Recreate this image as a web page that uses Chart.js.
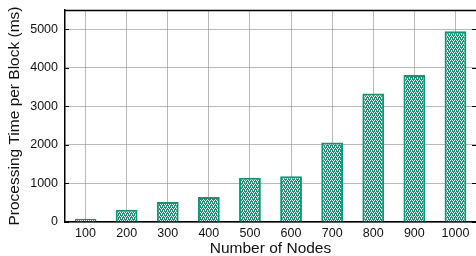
<!DOCTYPE html>
<html><head><meta charset="utf-8">
<script src="https://cdn.jsdelivr.net/npm/chart.js@4/dist/chart.umd.min.js"></script>
<style>html,body{margin:0;padding:0;background:#fff}#wrap{width:476px;height:256px}</style>
</head><body><div id="wrap"><canvas id="c" width="476" height="256"></canvas></div>
<script>
const nodes = ['100','200','300','400','500','600','700','800','900','1000'];
const timesMs = [85, 320, 518, 648, 1150, 1190, 2065, 3334, 3816, 4948];
const yMax = 5500;
const yStep = 1000;

const GREEN = '#009e73';
function checker() {
  const p = document.createElement('canvas');
  p.width = 4; p.height = 4;
  const g = p.getContext('2d');
  g.fillStyle = GREEN; g.fillRect(0,0,4,4);
  g.fillStyle = '#ffffff';
  [[0,0],[2,0],[1,2],[3,2],[1,1],[3,3]].forEach(([x,y]) => g.fillRect(x,y,1,1));
  return g.createPattern(p, 'repeat');
}
const FONT = '"Liberation Sans", Arial, sans-serif';

const frame = {
  id: 'frame',
  afterDraw(chart) {
    const a = chart.chartArea, ctx = chart.ctx;
    ctx.save();
    ctx.strokeStyle = '#000'; ctx.lineWidth = 1.5;
    ctx.beginPath();
    ctx.moveTo(a.left, a.top + 0.5); ctx.lineTo(a.right, a.top + 0.5);
    ctx.stroke();
    const ys = chart.scales.y;
    ctx.lineWidth = 1;
    for (let v = 0; v <= yMax; v += yStep) {
      const y = Math.round(ys.getPixelForValue(v)) + 0.5;
      ctx.beginPath(); ctx.moveTo(a.right - 4, y); ctx.lineTo(a.right, y); ctx.stroke();
      ctx.beginPath(); ctx.moveTo(a.left, y); ctx.lineTo(a.left + 4, y); ctx.stroke();
    }
    ctx.restore();
  }
};

new Chart(document.getElementById('c'), {
  type: 'bar',
  data: { labels: nodes, datasets: [{
    data: timesMs,
    backgroundColor: checker(),
    borderColor: GREEN,
    borderWidth: 2,
    barPercentage: 0.53,
    categoryPercentage: 1.0
  }]},
  options: {
    responsive: false, animation: false, devicePixelRatio: 1,
    layout: { padding: { top: 10, right: 0, left: 0, bottom: 0 } },
    plugins: { legend: { display: false }, tooltip: { enabled: false } },
    scales: {
      x: {
        offset: true,
        grid: { offset: false, color: 'rgba(140,140,140,0.6)', lineWidth: 1, drawTicks: false },
        border: { color: '#000', width: 1.5 },
        ticks: { color: '#111', font: { family: FONT, size: 12.5 }, padding: 4, maxRotation: 0, autoSkip: false },
        title: { display: true, text: 'Number of Nodes', color: '#111', font: { family: FONT, size: 15.5, lineHeight: 1.0 }, padding: { top: 0, bottom: 0 } },
        afterFit(s) { s.height = 34; s.paddingLeft = 0; s.paddingRight = 0; }
      },
      y: {
        min: 0, max: yMax,
        afterBuildTicks(s) { const t = []; for (let v = 0; v <= yMax - 500; v += yStep) t.push({ value: v }); s.ticks = t; },
        grid: { color: 'rgba(140,140,140,0.6)', lineWidth: 1, drawTicks: false },
        border: { color: '#000', width: 1.5 },
        ticks: { color: '#111', font: { family: FONT, size: 12.5 }, padding: 7, callback: v => String(v) },
        title: { display: true, text: 'Processing Time per Block (ms)', color: '#111', font: { family: FONT, size: 15.5, lineHeight: 1.0 }, padding: { top: 7, bottom: 0 } },
        afterFit(s) { s.width = 65; s.paddingTop = 0; s.paddingBottom = 0; }
      }
    }
  },
  plugins: [frame]
});
</script></body></html>
